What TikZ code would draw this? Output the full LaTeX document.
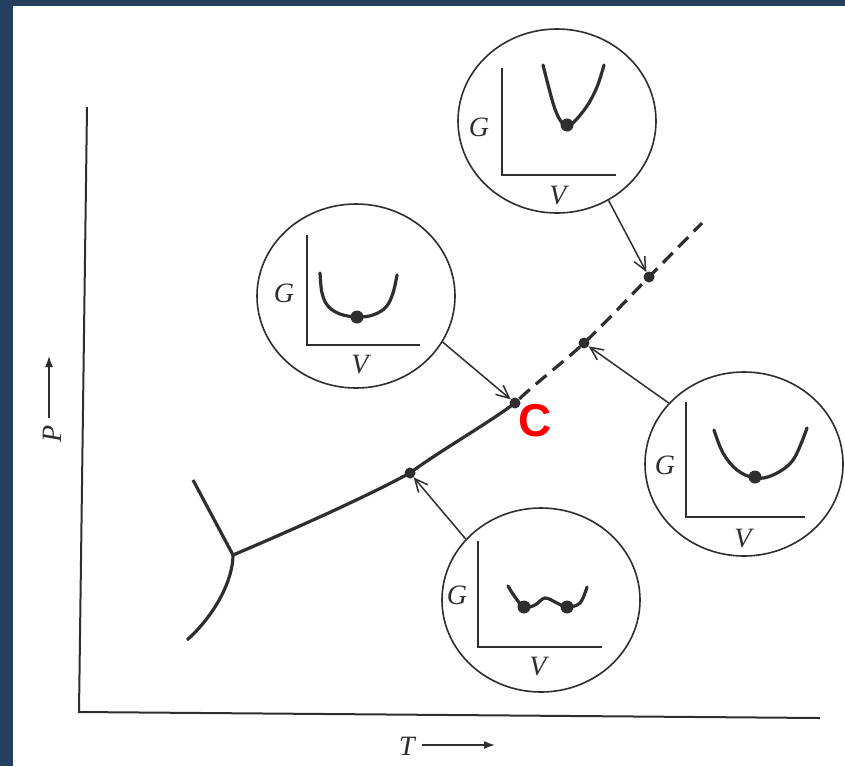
\documentclass[tikz,border=0pt]{standalone}
\usepackage{fontspec}
\setmainfont{Liberation Serif}
\newfontfamily\labsans{Liberation Sans}
\usetikzlibrary{shapes.geometric,arrows.meta}
\definecolor{navy}{HTML}{243F60}
\definecolor{ink}{HTML}{2E2E2E}
\begin{document}
\begin{tikzpicture}[x=1pt,y=-1pt,
  bubble/.style={draw=ink, line width=1.6pt, ellipse, minimum width=198pt, minimum height=184pt, inner sep=0pt},
  bigdot/.style={circle, fill=ink, inner sep=0pt, minimum size=11pt},
  welldot/.style={circle, fill=ink, inner sep=0pt, minimum size=13pt},
  axisline/.style={draw=ink, line width=2pt},
  inaxis/.style={draw=ink, line width=1.8pt},
  well/.style={draw=ink, line width=3.2pt, line cap=round},
  phase/.style={draw=ink, line width=3.2pt},
  lbl/.style={font=\fontsize{28}{28}\selectfont\itshape, inner sep=0pt, text=ink},
  ptr/.style={draw=ink, line width=1.5pt, -{Straight Barb[length=13pt,width=12pt,line width=1.5pt]}},
  labarrow/.style={draw=ink, line width=1.5pt, -{Latex[length=11pt,width=8pt]}},
]
\useasboundingbox (0,0) rectangle (845,766);
\fill[white] (0,0) rectangle (845,766);
\fill[navy] (0,0) rectangle (845,6);
\fill[navy] (0,0) rectangle (13,766);

% main axes
\draw[axisline] (87,107) -- (79,712) -- (820,718);
\node[lbl] (tl) at (407,746) {T};
\coordinate (ta) at (422,745);
\coordinate (tb) at (495,745);
\draw[labarrow] (ta) -- (tb);
\node[lbl, rotate=90] (pl) at (52,434) {P};
\coordinate (pa) at (49,418);
\coordinate (pb) at (49,356);
\draw[labarrow] (pa) -- (pb);

% phase boundaries
\draw[phase] (193,480) -- (233,555);
\draw[phase] (233,555) .. controls (233,580) and (215,615) .. (187,640);
\draw[phase] (233,555) .. controls (292,530) and (363,498.3) .. (410,473)
                       .. controls (439,451.3) and (486,424.7) .. (515,403);
\draw[phase, dash pattern=on 14pt off 8pt, dash phase=-6pt]
  (515,403) .. controls (537.3,381.3) and (561.7,364) .. (584,343)
            .. controls (606.3,322) and (629.3,297) .. (649,277)
            .. controls (668.7,257) and (684.3,241) .. (702,223);

\node[bigdot] (d1) at (649,277) {};
\node[bigdot] (d3) at (584,343) {};
\node[bigdot] (dc) at (515,403) {};
\node[bigdot] (d4) at (410,473) {};
\node[text=red, font=\labsans\bfseries\fontsize{46}{46}\selectfont, inner sep=0pt] (clab) at (535,421) {C};

% bubbles
\node[bubble] (c1) at (557,121) {};
\node[bubble] (c2) at (356,296) {};
\node[bubble] (c3) at (744,464) {};
\node[bubble] (c4) at (541,600) {};

% pointers
\draw[ptr] (c1.-57) -- (d1);
\draw[ptr] (c2.-28) -- (dc);
\draw[ptr] (c3.141) -- (d3);
\draw[ptr] (c4.141) -- (d4);

% bubble 1 (top)
\draw[inaxis] (502,68) -- (502,175) -- (616,175);
\node[lbl] (g1) at (479,127) {G};
\node[lbl] (v1) at (558,196) {V};
\draw[well] plot[smooth, tension=0.6] coordinates {(543,65) (553,103) (560,120) (567,126) (574,122) (587,106) (597,87) (604,65)};
\node[welldot] (m1) at (567,125) {};

% bubble 2 (left)
\draw[inaxis] (307,235) -- (307,345) -- (420,345);
\node[lbl] (g2) at (284,293) {G};
\node[lbl] (v2) at (360,365) {V};
\draw[well] plot[smooth, tension=0.6] coordinates {(320,273) (322,293) (328,306) (340,314) (357,317) (373,315) (386,307) (393,293) (397,275)};
\node[welldot] (m2) at (357,317) {};

% bubble 3 (right)
\draw[inaxis] (686,402) -- (686,517) -- (805,517);
\node[lbl] (g3) at (665,465) {G};
\node[lbl] (v3) at (743,539) {V};
\draw[well] plot[smooth, tension=0.6] coordinates {(714,430) (723,453) (737,470) (755,478) (773,475) (793,460) (807,428)};
\node[welldot] (m3) at (755,477) {};

% bubble 4 (bottom)
\draw[inaxis] (478,541) -- (478,647) -- (602,647);
\node[lbl] (g4) at (457,595) {G};
\node[lbl] (v4) at (538,667) {V};
\draw[well] plot[smooth, tension=0.6] coordinates {(508,586) (515,597) (524,607) (535,605) (545,598) (557,603) (567,607) (580,603) (587,587)};
\node[welldot] (m4a) at (524,607) {};
\node[welldot] (m4b) at (567,607) {};
\end{tikzpicture}
\end{document}
